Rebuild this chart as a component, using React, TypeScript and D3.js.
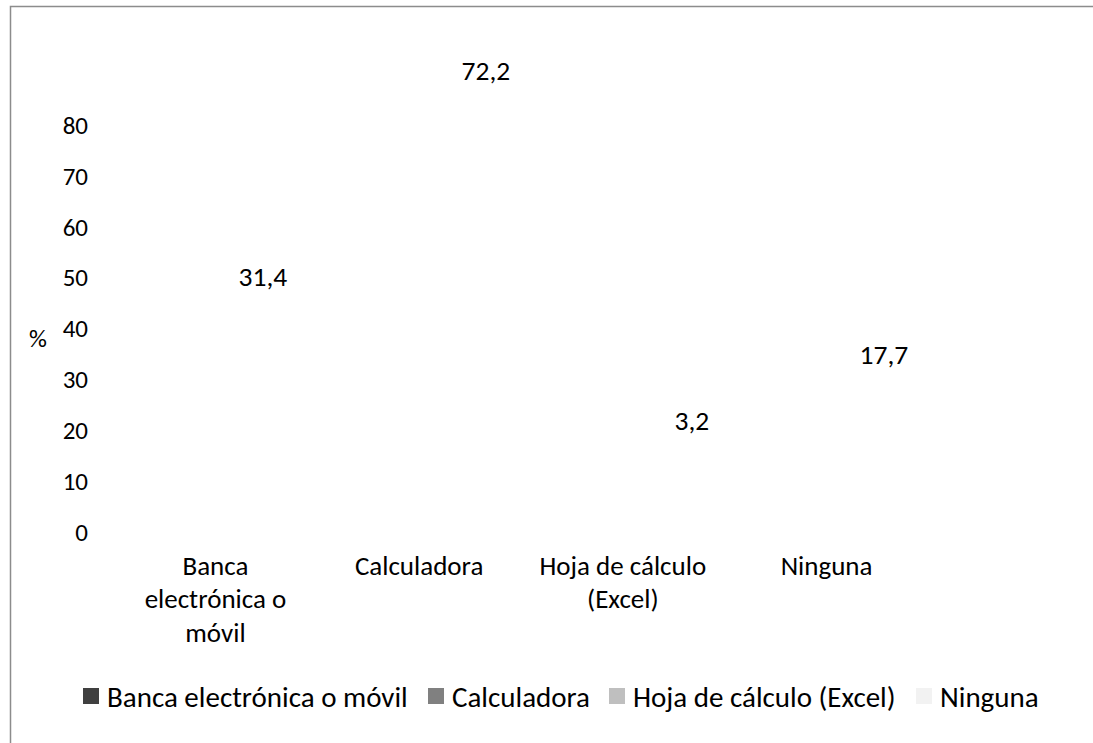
import React from "react";
import * as d3 from "d3";

const categories = ["Banca electrónica o móvil", "Calculadora", "Hoja de cálculo (Excel)", "Ninguna"];
const categoryLines = [["Banca", "electrónica o", "móvil"], ["Calculadora"], ["Hoja de cálculo", "(Excel)"], ["Ninguna"]];
const values = [31.4, 72.2, 3.2, 17.7];
const valueLabels = ["31,4", "72,2", "3,2", "17,7"];
// level (in axis units) at which each data label appears in the picture
const labelLevels = [50.2, 90.8, 22.0, 35.0];
const yTicks = [0, 10, 20, 30, 40, 50, 60, 70, 80];
const seriesColors = ["#404040", "#808080", "#bfbfbf", "#f2f2f2"];

const FONT = "Carlito, Calibri, Lato, 'Noto Sans', sans-serif";

// layout constants (not data)
const labelDx = [47.5, 66.8, 69.1, 57.4];
const legendTextX = [107, 452, 633, 940];

export default function App() {
  const W = 1093, H = 743;
  const x = d3.scaleBand<string>().domain(categories).range([113.6, 928.4]).padding(0);
  const y = d3.scaleLinear().domain([0, 80]).range([532, 125.5]);
  const bw = x.bandwidth();
  const cx = (i: number) => (x(categories[i]) ?? 0) + bw / 2;

  return (
    <svg width={W} height={H} style={{ position: "absolute", left: 0, top: 0, background: "#fff" }} fontFamily={FONT}>
      <rect x={0} y={0} width={W} height={H} fill="#fff" />
      <path d={`M10.5,${H} V6.5 H${W}`} fill="none" stroke="#8c8c8c" strokeWidth={1.5} />
      {/* bars (white fill, invisible as in the reference) */}
      {values.map((v, i) => (
        <rect key={i} x={cx(i) + labelDx[i] - 20} y={y(v)} width={40} height={y(0) - y(v)} fill="#ffffff" />
      ))}
      {/* y ticks */}
      {yTicks.map((t) => (
        <text key={t} x={88} y={y(t)} textAnchor="end" dominantBaseline="central" fontSize={25} fill="#000">
          {t}
        </text>
      ))}
      <text x={38} y={338} textAnchor="middle" dominantBaseline="central" fontSize={25} fill="#000">%</text>
      {/* category labels */}
      {categoryLines.map((lines, i) => (
        <g key={i}>
          {lines.map((l, j) => (
            <text key={j} x={cx(i)} y={565 + j * 33.5} textAnchor="middle" dominantBaseline="central" fontSize={27} fill="#000">{l}</text>
          ))}
        </g>
      ))}
      {/* data labels */}
      {valueLabels.map((l, i) => (
        <text key={i} x={cx(i) + labelDx[i]} y={y(labelLevels[i])} textAnchor="middle" dominantBaseline="central" fontSize={27.5} fill="#000">
          {l}
        </text>
      ))}
      {/* legend */}
      {categories.map((c, i) => (
        <g key={i}>
          <rect x={legendTextX[i] - 24} y={688} width={16} height={16} fill={seriesColors[i]} />
          <text x={legendTextX[i]} y={697} dominantBaseline="central" fontSize={29} fill="#000">{c}</text>
        </g>
      ))}
    </svg>
  );
}
